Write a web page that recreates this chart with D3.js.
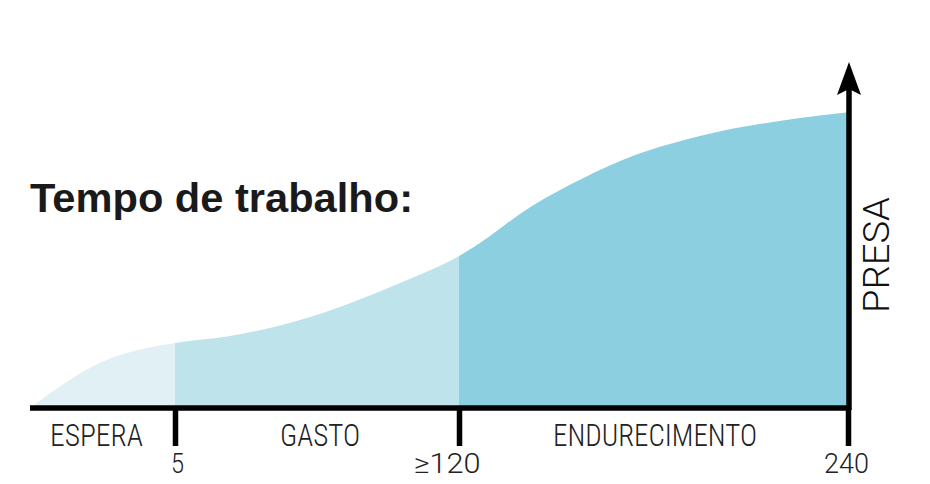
<!DOCTYPE html>
<html>
<head>
<meta charset="utf-8">
<script src="https://cdn.jsdelivr.net/npm/d3@7"></script>
<style>
  html, body { margin: 0; padding: 0; background: #fff; }
  svg { display: block; }
</style>
</head>
<body>
<svg id="chart" width="930" height="484"></svg>
<script>
// ---- data ----
const title = "Tempo de trabalho:";
const yLabel = "PRESA";
// working time (minutes) and setting ("presa") level
const times  = [0, 1, 2, 3, 4, 5, 27.3, 55.6, 75.9, 96.1, 120, 129.6, 138.8, 154.2, 169.7, 194.3, 225.2, 240];
const presa  = [0, 6.1, 11.3, 15.0, 17.3, 18.8, 20.8, 25.4, 30.3, 36.1, 43.9, 49.7, 56.1, 64.5, 71.4, 78.6, 83.8, 85.5];
const phaseNames = ["ESPERA", "GASTO", "ENDURECIMENTO"];
const phaseStart = [0, 5, 120];
const phaseEnd   = [5, 120, 240];
const phaseColors = ["#e1f0f5", "#bfe3eb", "#8ccfe0"];
const tickValues = [5, 120, 240];
const tickLabels = ["5", "\u2265120", "240"];

// ---- layout ----
const svg = d3.select("#chart");
const baseY = 408;
const x = d3.scaleLinear().domain([0, 5, 120, 240]).range([30, 175, 459, 848]);
const y = d3.scaleLinear().domain([0, 100]).range([baseY, 62]);

const data = times.map((t, i) => ({ t, v: presa[i] }));

const area = d3.area()
  .x(d => x(d.t))
  .y0(y(0))
  .y1(d => y(d.v))
  .curve(d3.curveMonotoneX);

const defs = svg.append("defs");
phaseNames.forEach((n, i) => {
  defs.append("clipPath").attr("id", "clip" + i)
    .append("rect")
    .attr("x", x(phaseStart[i]))
    .attr("y", 0)
    .attr("width", x(phaseEnd[i]) - x(phaseStart[i]) + (i < 2 ? 0.5 : 0))
    .attr("height", baseY + 1);
});

phaseNames.forEach((n, i) => {
  svg.append("path")
    .datum(data)
    .attr("d", area)
    .attr("fill", phaseColors[i])
    .attr("clip-path", `url(#clip${i})`);
});

// x axis
const xAxis = d3.axisBottom(x)
  .tickValues(tickValues)
  .tickSize(38)
  .tickSizeOuter(0)
  .tickPadding(10)
  .tickFormat((d, i) => tickLabels[i]);

const gx = svg.append("g")
  .attr("transform", `translate(0,${baseY})`)
  .call(xAxis);
gx.select(".domain")
  .attr("stroke", "#000")
  .attr("stroke-width", 5.5)
  .attr("d", `M${x(0)},0H${x(240)}`);
gx.selectAll(".tick line")
  .attr("stroke", "#000")
  .attr("stroke-width", 5.5);
gx.selectAll(".tick text")
  .attr("fill", "#222")
  .attr("font-family", "Roboto, 'Liberation Sans', sans-serif")
  .attr("font-weight", 300)
  .attr("font-size", 27)
  .attr("y", 65)
  .attr("dy", 0)
  .attr("text-anchor", (d, i) => i === 1 ? "end" : "middle")
  .attr("dx", (d, i) => i === 1 ? 21 : (i === 0 ? 2 : -2))
  .attr("textLength", (d, i) => [13, 67, 45][i])
  .attr("lengthAdjust", "spacingAndGlyphs");

// phase labels
svg.append("g").selectAll("text")
  .data(phaseNames)
  .join("text")
  .attr("x", (d, i) => [96.5, 320, 655][i])
  .attr("y", 446)
  .attr("text-anchor", "middle")
  .attr("fill", "#222")
  .attr("font-family", "'Liberation Sans Narrow', 'Roboto Condensed', Roboto, sans-serif")
  .attr("font-weight", 300)
  .attr("font-size", 31)
  .attr("textLength", (d, i) => [93, 80, 204][i])
  .attr("lengthAdjust", "spacingAndGlyphs")
  .text(d => d);

// vertical axis with arrow
const ax = x(240) + 1;
svg.append("line")
  .attr("x1", ax).attr("x2", ax)
  .attr("y1", 88).attr("y2", baseY + 2)
  .attr("stroke", "#000")
  .attr("stroke-width", 5.5);
svg.append("path")
  .attr("d", `M${ax},62 L${ax + 12},95 L${ax},89 L${ax - 12},95 Z`)
  .attr("fill", "#000");

// y label
svg.append("text")
  .attr("transform", `translate(889,255) rotate(-90)`)
  .attr("text-anchor", "middle")
  .attr("fill", "#111")
  .attr("font-family", "Roboto, 'Liberation Sans', sans-serif")
  .attr("font-weight", 300)
  .attr("font-size", 37)
  .attr("textLength", 116)
  .attr("lengthAdjust", "spacingAndGlyphs")
  .text(yLabel);

// title
svg.append("text")
  .attr("x", 30)
  .attr("y", 212)
  .attr("fill", "#1a1a1a")
  .attr("font-family", "'Liberation Sans', Arial, sans-serif")
  .attr("font-weight", "bold")
  .attr("font-size", 41)
  .attr("textLength", 383)
  .attr("lengthAdjust", "spacingAndGlyphs")
  .text(title);
</script>
</body>
</html>
